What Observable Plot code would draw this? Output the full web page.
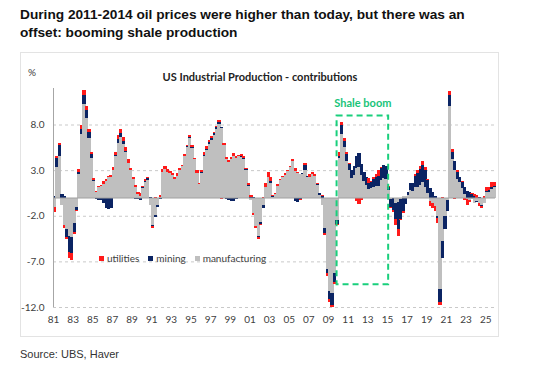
<!DOCTYPE html>
<html><head><meta charset="utf-8">
<script src="https://cdn.jsdelivr.net/npm/d3@7"></script>
<script src="https://cdn.jsdelivr.net/npm/@observablehq/plot@0.6"></script>
<style>
body{margin:0;background:#fff;}
#wrap{position:relative;width:540px;height:369px;overflow:hidden;background:#fff;font-family:"Liberation Sans",Arial,sans-serif;}
#title{position:absolute;left:20px;top:6px;width:470px;font-weight:bold;font-size:13.7px;line-height:18px;color:#111;}
#panel{position:absolute;left:20px;top:52px;width:479px;height:285px;border:1px solid #e3e3e3;box-sizing:border-box;}
#chart{position:absolute;left:0;top:0;}
#ctitle{position:absolute;left:140px;width:240px;top:70px;text-align:center;font-family:Lato,sans-serif;font-weight:bold;font-size:11px;color:#222;}
#pct{position:absolute;left:28px;top:66px;font-family:Lato,sans-serif;font-size:10px;color:#404040;}
#legend{position:absolute;left:99px;top:252px;display:flex;align-items:center;font-family:Lato,sans-serif;font-size:10px;color:#404040;}
#legend .sw{width:5px;height:5px;margin-right:3px;display:inline-block;}
#legend .it{display:flex;align-items:center;margin-right:9px;}
#source{position:absolute;left:20px;top:348px;font-size:11px;color:#333;}
</style></head>
<body>
<div id="wrap">
  <div id="panel"></div>
  <div id="chart"></div>
  <div id="title">During 2011-2014 oil prices were higher than today, but there was an offset: booming shale production</div>
  <div id="ctitle">US Industrial Production - contributions</div>
  <div id="pct">%</div>
  <div id="legend"></div>
  <div id="source">Source: UBS, Haver</div>
</div>
<script>
// Quarterly contributions to US industrial production YoY growth (pp), 1981Q1 .. 2025Q4
const startYear = 1981;
const seriesNames = ["manufacturing", "mining", "utilities"];
const legendOrder = ["utilities", "mining", "manufacturing"];
const seriesColors = ["#bfbfbf", "#0b2463", "#ff1a1a"];

const manufacturing = [
  -1.0, 3.3, 4.6, -0.8,   -3.0, -3.5, -4.2, -4.3,   -2.8, -1.0, 2.6, 7.0,   10.2, 8.7, 6.5, 4.3,
  1.8, 0.6, 1.1, 1.3,     1.5, 1.8, 2.2, 2.3,       3.0, 4.5, 6.0, 6.6,     5.9, 5.0, 3.8, 3.0,
  2.0, 1.1, 0.4, 0.2,     1.0, 1.7, 1.9, -0.8,      -3.0, -1.9, -0.8, 0.1,  2.8, 3.1, 2.8, 2.7,
  2.5, 2.0, 2.4, 3.0,     3.4, 4.5, 5.5, 6.5,       5.4, 4.2, 2.7, 1.5,     2.7, 4.6, 5.2, 5.9,
  6.3, 6.9, 7.5, 8.1,     7.6, 5.8, 4.2, 3.9,       4.2, 4.6, 4.3, 4.5,     4.4, 4.2, 3.0, 1.3,
  -0.3, -1.7, -3.1, -4.2, -2.7, -0.8, 1.2, 2.3,     1.6, 0.1, 0.4, 1.3,     1.9, 2.3, 2.5, 2.9,
  3.3, 4.0, 2.9, 2.7,     2.6, 2.6, 3.0, 2.2,       2.3, 2.6, 2.4, 1.4,     0.3, -0.8, -3.3, -7.8,
  -10.3, -10.5, -8.3, -2.5, 4.3, 7.0, 5.5, 4.0,     3.0, 2.1, 2.5, 3.2,     3.3, 2.5, 1.8, 1.4,
  0.9, 1.0, 1.1, 1.3,     1.3, 1.9, 2.1, 2.0,       0.8, -0.2, 0.0, -0.6,   -0.5, -0.2, 0.2, 0.2,
  0.3, 0.8, 0.7, 1.2,     1.2, 1.4, 1.7, 1.2,       0.5, -0.4, -0.6, -0.9,  -2.0, -10.0, -4.8, -2.0,
  -0.3, 10.0, 4.2, 3.0,   2.0, 1.7, 1.0, 0.4,       -0.2, -0.3, -0.2, -0.6, -0.4, -0.6, -0.8, -0.6,
  0.6, 0.6, 0.9, 1.1
];
const mining = [
  0.2, 1.0, 1.2, 0.4,     0.2, -0.8, -1.8, -1.8,    -1.0, -0.4, 0.2, 0.5,   1.0, 0.9, 0.7, 0.5,
  0.1, -0.2, -0.3, -0.3,  -0.6, -1.2, -1.3, -1.1,   -0.1, 0.2, 0.4, 0.5,    0.3, 0.1, 0.0, 0.0,
  -0.1, -0.2, -0.2, -0.3, 0.1, 0.1, 0.2, 0.1,       -0.1, -0.2, -0.2, -0.2, -0.1, 0.0, -0.1, -0.1,
  -0.1, -0.1, -0.1, 0.0,  0.1, 0.1, 0.1, 0.1,       0.1, 0.0, 0.0, -0.1,    0.1, 0.1, 0.1, 0.2,
  0.2, 0.2, 0.2, 0.2,     0.1, 0.0, -0.2, -0.3,     -0.4, -0.4, -0.2, 0.0,  0.1, 0.1, 0.1, 0.1,
  0.1, 0.1, 0.0, -0.1,    -0.2, -0.3, -0.1, 0.0,    0.2, 0.1, 0.0, -0.1,    0.0, 0.0, -0.1, -0.1,
  0.0, 0.0, -0.4, -0.5,   -0.2, 0.1, 0.6, 0.2,      0.0, 0.0, 0.0, 0.1,     0.2, 0.2, -0.6, -0.5,
  -0.8, -1.3, -1.0, -0.4, 0.3, 0.9, 0.7, 0.8,       0.7, 0.9, 1.0, 1.3,     1.6, 1.2, 1.0, 0.8,
  0.7, 0.7, 0.9, 1.0,     1.1, 1.3, 1.5, 1.5,       0.3, -0.8, -1.4, -1.8,  -2.9, -2.2, -1.5, -0.7,
  0.3, 0.8, 0.9, 1.2,     1.5, 1.7, 1.9, 1.8,       1.4, 1.0, 0.6, 0.2,     -0.3, -1.5, -1.8, -1.5,
  -1.2, 1.2, 0.8, 1.0,    0.8, 0.6, 0.7, 0.8,       0.7, 0.6, 0.4, 0.2,     -0.1, 0.1, -0.1, 0.0,
  0.1, 0.2, 0.3, 0.2
];
const utilities = [
  -0.6, 0.2, 0.2, 0.0,    -0.3, -0.3, -0.6, -0.7,   -0.2, -0.1, 0.3, 0.4,   0.6, 0.4, 0.3, 0.2,
  0.2, 0.1, 0.2, 0.1,     0.3, 0.2, 0.2, 0.2,       0.3, 0.3, 0.4, 0.4,     0.4, 0.4, 0.4, 0.2,
  0.3, 0.3, 0.2, 0.3,     0.2, 0.2, 0.2, 0.0,       -0.2, 0.1, 0.0, 0.2,    0.3, 0.3, 0.3, 0.2,
  0.2, 0.3, 0.3, 0.2,     0.1, 0.2, 0.2, 0.2,       0.3, 0.1, 0.3, 0.1,     0.2, 0.3, 0.3, 0.2,
  0.2, 0.1, 0.1, 0.2,     -0.2, 0.2, 0.2, 0.2,      0.2, 0.3, 0.3, 0.2,     0.3, 0.2, 0.1, 0.2,
  0.2, -0.2, -0.2, -0.3,  -0.1, 0.1, 0.4, 0.5,      0.4, 0.1, 0.1, 0.2,     0.1, 0.1, 0.2, 0.1,
  0.1, 0.2, 0.3, 0.1,     -0.1, -0.1, 0.2, 0.0,     0.3, 0.2, 0.2, 0.1,     0.0, 0.1, -0.2, -0.3,
  -0.3, -0.2, -0.2, -0.1, 0.4, 0.4, 0.3, 0.2,       0.1, 0.0, 0.0, -0.4,    -0.7, -0.3, -0.1, 0.1,
  0.5, 0.1, 0.2, 0.3,     0.6, 0.1, 0.0, -0.1,      0.2, -0.2, -0.2, -0.6,  -0.8, -0.1, -0.2, 0.0,
  -0.1, 0.0, 0.0, 0.2,    0.3, 0.3, 0.4, 0.3,       0.1, -0.5, -0.6, -0.6,  -0.5, -0.3, 0.1, 0.0,
  0.0, 0.5, 0.3, -0.2,    0.2, 0.0, 0.1, -0.3,      -0.6, -0.2, 0.1, 0.2,   0.3, -0.3, -0.2, 0.2,
  0.4, 0.3, 0.5, 0.4
];

const yTicks = [-12, -7, -2, 3, 8];
const xTickYears = d3.range(1981, 2026, 2);
// Shale boom annotation box (data units)
const shaleStart = "2009-11-15", shaleEnd = "2015-02-15";
const shaleTop = 9.0, shaleBottom = -9.5, shaleLabelY = 10.4;

const utc = (y, m) => new Date(Date.UTC(y, m, 1));
const seriesValues = {manufacturing, mining, utilities};

// build stacked table (positives up, negatives down; manufacturing nearest zero)
const table = [];
for (let i = 0; i < manufacturing.length; i++) {
  const y = startYear + Math.floor(i / 4), q = i % 4;
  const x1 = utc(y, q * 3), x2 = utc(y, q * 3 + 3);
  let pos = 0, neg = 0;
  for (const s of seriesNames) {
    const v = seriesValues[s][i];
    if (v === 0) continue;
    if (v > 0) { table.push({x1, x2, y1: pos, y2: pos + v, series: s}); pos += v; }
    else { table.push({x1, x2, y1: neg, y2: neg + v, series: s}); neg += v; }
  }
}

const box = [{x1: new Date(shaleStart), x2: new Date(shaleEnd), y1: shaleBottom, y2: shaleTop}];
const boxMid = new Date((new Date(shaleStart).getTime() + new Date(shaleEnd).getTime()) / 2);

const chart = Plot.plot({
  width: 540, height: 369,
  marginTop: 88, marginBottom: 62, marginLeft: 53, marginRight: 45,
  x: {type: "utc", domain: [utc(1981, 0), utc(2026, 0)]},
  y: {domain: [-12, 12]},
  color: {domain: seriesNames, range: seriesColors},
  style: {fontFamily: "Lato, sans-serif", fontSize: "10px", color: "#404040", background: "transparent", overflow: "visible"},
  marks: [
    Plot.gridY(yTicks, {stroke: "#c9c9c9", strokeOpacity: 1, strokeDasharray: "3,3"}),
    Plot.rect(table, {x1: "x1", x2: "x2", y1: "y1", y2: "y2", fill: "series", insetLeft: 0, insetTop: 0, insetBottom: 0, insetRight: -0.7, shapeRendering: "crispEdges"}),
    Plot.ruleY([0], {stroke: "#a0a0a0"}),
    Plot.ruleX([utc(1981, 0)], {y1: -12, y2: 12, stroke: "#a6a6a6"}),
    Plot.axisY(yTicks, {tickSize: 0, tickPadding: 9, tickFormat: d => d.toFixed(1), label: null, color: "#404040"}),
    Plot.axisX(xTickYears.map(y => utc(y, 0)), {tickSize: 0, tickPadding: 8, tickFormat: d => String(d.getUTCFullYear()).slice(2), label: null, color: "#404040"}),
    Plot.rect(box, {x1: "x1", x2: "x2", y1: "y1", y2: "y2", fill: "none", stroke: "#19cf7c", strokeWidth: 2, strokeDasharray: "6,4", inset: 0}),
    Plot.text(["Shale boom"], {x: boxMid, y: shaleLabelY, text: d => d, fill: "#19c479", fontWeight: "bold", fontSize: 11})
  ]
});
document.getElementById("chart").appendChild(chart);

const lg = document.getElementById("legend");
for (const s of legendOrder) {
  const it = document.createElement("span"); it.className = "it";
  const sw = document.createElement("span"); sw.className = "sw";
  sw.style.background = seriesColors[seriesNames.indexOf(s)];
  it.appendChild(sw); it.appendChild(document.createTextNode(s));
  lg.appendChild(it);
}
</script>
</body></html>
